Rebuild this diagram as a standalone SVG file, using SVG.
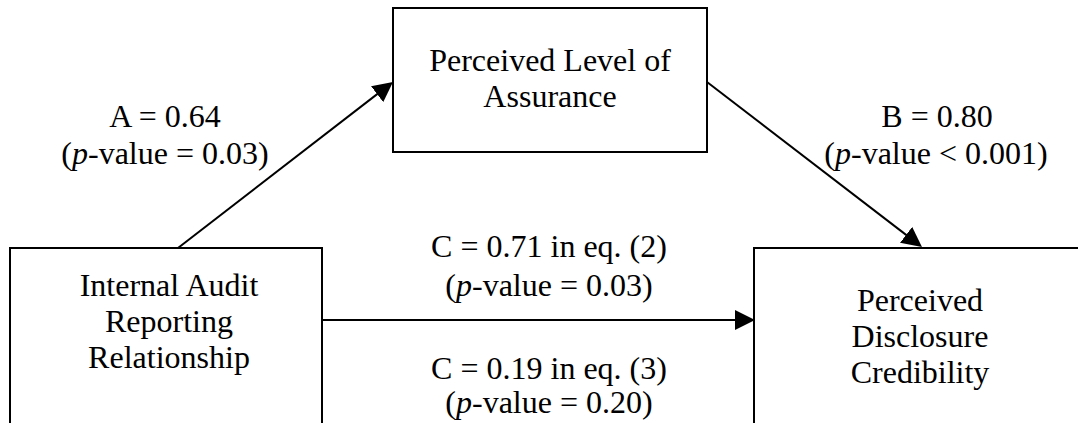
<svg xmlns="http://www.w3.org/2000/svg" width="1078" height="423" viewBox="0 0 1078 423">
<style>
.box{fill:#fff;stroke:#000;stroke-width:2}
.t{font-family:"Liberation Serif","Times New Roman",serif;font-size:32px;fill:#000;text-anchor:middle}
.c{stroke:#000;stroke-width:2;fill:none;marker-end:url(#ah)}
</style>
<defs>
<marker id="ah" markerUnits="userSpaceOnUse" markerWidth="20" markerHeight="20" refX="16" refY="10" orient="auto" viewBox="0 0 20 20">
<path d="M0,0 L20,10 L0,20 Z" fill="#000"/>
</marker>
</defs>
<rect width="1078" height="423" fill="#fff"/>
<g id="connectors">
<line class="c" x1="178" y1="248" x2="389.8" y2="84.4"/>
<line class="c" x1="707" y1="82" x2="918.8" y2="244.6"/>
<line class="c" x1="322" y1="320" x2="751" y2="320"/>
</g>
<g id="node-assurance">
<rect class="box" x="393" y="8" width="314" height="144"/>
<text class="t" x="550" y="71">Perceived Level of</text>
<text class="t" x="550" y="107">Assurance</text>
</g>
<g id="node-internal-audit">
<rect class="box" x="10" y="248" width="312" height="190"/>
<text class="t" x="169" y="296">Internal Audit</text>
<text class="t" x="169" y="332">Reporting</text>
<text class="t" x="169" y="368">Relationship</text>
</g>
<g id="node-credibility">
<rect class="box" x="754" y="248" width="340" height="190"/>
<text class="t" x="920" y="311">Perceived</text>
<text class="t" x="920" y="347">Disclosure</text>
<text class="t" x="920" y="383">Credibility</text>
</g>
<g id="labels">
<text class="t" x="165" y="127">A = 0.64</text>
<text class="t" x="165" y="164">(<tspan font-style="italic">p</tspan>-value = 0.03)</text>
<text class="t" x="937" y="127">B = 0.80</text>
<text class="t" x="936" y="164">(<tspan font-style="italic">p</tspan>-value &lt; 0.001)</text>
<text class="t" x="549" y="257">C = 0.71 in eq. (2)</text>
<text class="t" x="549" y="296">(<tspan font-style="italic">p</tspan>-value = 0.03)</text>
<text class="t" x="549" y="379">C = 0.19 in eq. (3)</text>
<text class="t" x="549" y="413">(<tspan font-style="italic">p</tspan>-value = 0.20)</text>
</g>
</svg>
